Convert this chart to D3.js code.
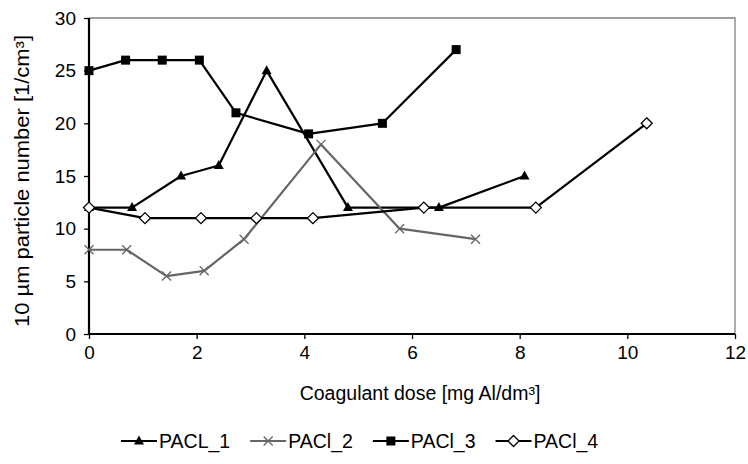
<!DOCTYPE html>
<html>
<head>
<meta charset="utf-8">
<script src="https://cdn.jsdelivr.net/npm/d3@7"></script>
<style>
  body { margin: 0; background: #fff; }
  svg { font-family: "Liberation Sans", Arial, sans-serif; }
</style>
</head>
<body>
<div id="chart"></div>
<script>
// Series data: dose [mg Al/dm3] and particle number.
const pacl1X = [0, 0.8, 1.71, 2.41, 3.3, 4.81, 6.5, 8.09];
const pacl1Y = [12, 12, 15, 16, 25, 12, 12, 15];
const pacl2X = [0, 0.7, 1.44, 2.14, 2.88, 4.31, 5.77, 7.18];
const pacl2Y = [8, 8, 5.5, 6, 9, 18, 10, 9];
const pacl3X = [0, 0.68, 1.36, 2.05, 2.73, 4.08, 5.45, 6.82];
const pacl3Y = [25, 26, 26, 26, 21, 19, 20, 27];
const pacl4X = [0, 1.04, 2.08, 3.11, 4.16, 6.22, 8.3, 10.36];
const pacl4Y = [12, 11, 11, 11, 11, 12, 12, 20];
const seriesNames = ["PACL_1", "PACl_2", "PACl_3", "PACl_4"];
const xTicks = [0, 2, 4, 6, 8, 10, 12];
const yTicks = [0, 5, 10, 15, 20, 25, 30];

const width = 748;
const height = 464;

const series = [
    {name: seriesNames[0], xs: pacl1X, ys: pacl1Y, color: "#000", marker: "triangle"},
    {name: seriesNames[1], xs: pacl2X, ys: pacl2Y, color: "#666", marker: "cross"},
    {name: seriesNames[2], xs: pacl3X, ys: pacl3Y, color: "#000", marker: "square"},
    {name: seriesNames[3], xs: pacl4X, ys: pacl4Y, color: "#000", marker: "diamond"}
];

const x = d3.scaleLinear().domain([0, 12]).range([89, 735]);
const y = d3.scaleLinear().domain([0, 30]).range([334, 18]);

const svg = d3.select("#chart")
    .append("svg")
    .attr("width", width)
    .attr("height", height)
    .attr("viewBox", [0, 0, width, height]);

// Grey top and right frame.
svg.append("path")
    .attr("d", `M${x(0)},${y(30)}H${x(12)}V${y(0)}`)
    .attr("fill", "none")
    .attr("stroke", "#808080")
    .attr("stroke-width", 1.3);

// Axes.
const xAxis = svg.append("g")
    .attr("transform", `translate(0,${y(0)})`)
    .call(d3.axisBottom(x).tickValues(xTicks).tickSize(5).tickPadding(7));
const yAxis = svg.append("g")
    .attr("transform", `translate(${x(0)},0)`)
    .call(d3.axisLeft(y).tickValues(yTicks).tickSize(5).tickPadding(8));

[xAxis, yAxis].forEach(g => {
    g.select(".domain").remove();
    g.selectAll(".tick line").attr("stroke", "#000").attr("stroke-width", 1.3);
    g.selectAll(".tick text")
        .attr("fill", "#000")
        .attr("font-size", 19)
        .attr("font-family", "Liberation Sans, Arial, sans-serif");
});
svg.append("path")
    .attr("d", `M${x(0)},${y(30)}V${y(0)}H${x(12)}`)
    .attr("fill", "none")
    .attr("stroke", "#000")
    .attr("stroke-width", 2.2);

// Axis titles.
svg.append("text")
    .attr("x", 420)
    .attr("y", 400)
    .attr("text-anchor", "middle")
    .attr("font-size", 19.5)
    .text("Coagulant dose [mg Al/dm³]");

svg.append("text")
    .attr("transform", "translate(29,181) rotate(-90)")
    .attr("text-anchor", "middle")
    .attr("font-size", 19.5)
    .attr("textLength", 292)
    .attr("lengthAdjust", "spacingAndGlyphs")
    .text("10 µm particle number [1/cm³]");

// Marker drawing.
function drawMarker(g, type, color) {
    if (type === "triangle") {
        g.append("path").attr("d", "M0,-5.5L5,3.5L-5,3.5Z").attr("fill", color);
    } else if (type === "square") {
        g.append("rect").attr("x", -4.5).attr("y", -4.5).attr("width", 9).attr("height", 9).attr("fill", color);
    } else if (type === "diamond") {
        g.append("path").attr("d", "M0,-5.5L5.5,0L0,5.5L-5.5,0Z")
            .attr("fill", "#fff").attr("stroke", color).attr("stroke-width", 1.3);
    } else if (type === "cross") {
        g.append("path").attr("d", "M-4.5,-4.5L4.5,4.5M-4.5,4.5L4.5,-4.5")
            .attr("stroke", color).attr("stroke-width", 1.3);
    }
}

const line = d3.line().x(d => x(d[0])).y(d => y(d[1]));

const plot = svg.append("g");
series.forEach(s => {
    const pts = s.xs.map((v, i) => [v, s.ys[i]]);
    const g = plot.append("g");
    g.append("path")
        .attr("d", line(pts))
        .attr("fill", "none")
        .attr("stroke", s.color)
        .attr("stroke-width", 2.2)
        .attr("stroke-linejoin", "round");
    g.selectAll("g.pt")
        .data(pts)
        .join("g")
        .attr("class", "pt")
        .attr("transform", d => `translate(${x(d[0])},${y(d[1])})`)
        .each(function () { drawMarker(d3.select(this), s.marker, s.color); });
});

// Legend: items laid out one after another.
const legend = svg.append("g").attr("transform", "translate(121,441)");
let offset = 0;
series.forEach(s => {
    const g = legend.append("g").attr("transform", `translate(${offset},0)`);
    g.append("line")
        .attr("x1", 0).attr("x2", 36)
        .attr("stroke", s.color).attr("stroke-width", 2.2);
    const m = g.append("g").attr("transform", "translate(18,0)");
    drawMarker(m, s.marker, s.color);
    const t = g.append("text")
        .attr("x", 38)
        .attr("dy", "0.36em")
        .attr("font-size", 19.5)
        .text(s.name);
    offset += 38 + t.node().getComputedTextLength() + 20;
});
</script>
</body>
</html>
